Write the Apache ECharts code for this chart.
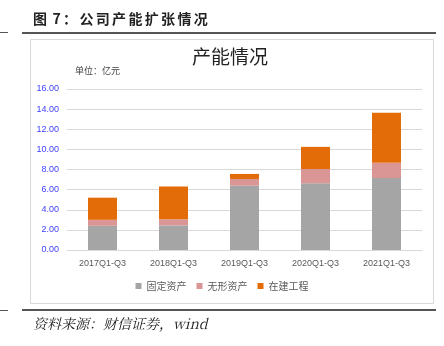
<!DOCTYPE html>
<html><head><meta charset="utf-8">
<script src="https://cdn.jsdelivr.net/npm/echarts@6/dist/echarts.min.js"></script>
<style>html,body{margin:0;padding:0;background:#fff}#c{width:444px;height:346px}</style>
</head><body><div id="c"></div>
<script>
const categories = ['2017Q1-Q3','2018Q1-Q3','2019Q1-Q3','2020Q1-Q3','2021Q1-Q3'];
const seriesNames = ['固定资产','无形资产','在建工程'];
const fixedAssets = [2.40, 2.45, 6.40, 6.63, 7.15];
const intangibleAssets = [0.60, 0.60, 0.66, 1.42, 1.52];
const construction = [2.20, 3.25, 0.50, 2.20, 4.97];
const yTicks = [0,2,4,6,8,10,12,14,16];

const chart = echarts.init(document.getElementById('c'));
const colors = ['#a5a5a5','#da9694','#e36c09'];
const sp = '\u2006';
const figTitle = ['图',' 7','：','公','司','产','能','扩','张','情','况'].join(sp);
chart.setOption({
  animation:false,
  color: colors,
  graphic:[
    {type:'text', left:33, top:12, style:{text:figTitle, font:'bold 14px "Noto Sans CJK SC"', fill:'#222'}},
    {type:'rect', shape:{x:0,y:32,width:8,height:1}, style:{fill:'#555'}},
    {type:'rect', shape:{x:22,y:32,width:414,height:2}, style:{fill:'#555'}},
    {type:'rect', shape:{x:30.5,y:39.5,width:403,height:264}, style:{fill:'none',stroke:'#d9d9d9',lineWidth:1}},
    {type:'rect', shape:{x:0,y:310,width:8,height:1}, style:{fill:'#555'}},
    {type:'rect', shape:{x:22,y:309,width:414,height:2}, style:{fill:'#555'}},
    {type:'text', left:33, top:317, style:{text:'资料来源：财信证券，wind', font:'italic 14px "Noto Serif CJK SC","Liberation Serif","Noto Sans CJK SC"', fill:'#222'}},
    {type:'text', left:75, top:66, style:{text:'单位：亿元', font:'9px "Noto Sans CJK SC"', fill:'#404040'}},
    {type:'text', left:192, top:47, style:{text:'产能情况', font:'19px "Noto Sans CJK SC"', fill:'#222'}}
  ],
  legend:{bottom:50, left:'center', itemWidth:6, itemHeight:6, itemGap:10, icon:'rect',
    textStyle:{fontSize:10, color:'#595959', fontFamily:'Noto Sans CJK SC'}, data:seriesNames},
  grid:{left:67, right:22, top:89, bottom:96},
  xAxis:{type:'category', data:categories,
    axisLine:{lineStyle:{color:'#d9d9d9'}}, axisTick:{show:false},
    axisLabel:{color:'#595959', fontSize:9, margin:9, fontFamily:'Liberation Sans'}},
  yAxis:{type:'value', min:yTicks[0], max:yTicks[yTicks.length-1], interval:2,
    axisLine:{show:false}, axisTick:{show:false},
    splitLine:{lineStyle:{color:'#d9d9d9', width:1}},
    axisLabel:{color:'#3f3fff', fontSize:9, margin:8, formatter:v=>v.toFixed(2), fontFamily:'Liberation Sans'}},
  series:[
    {name:seriesNames[0], type:'bar', stack:'a', data:fixedAssets, barWidth:29},
    {name:seriesNames[1], type:'bar', stack:'a', data:intangibleAssets, barWidth:29},
    {name:seriesNames[2], type:'bar', stack:'a', data:construction, barWidth:29}
  ]
});
</script></body></html>
